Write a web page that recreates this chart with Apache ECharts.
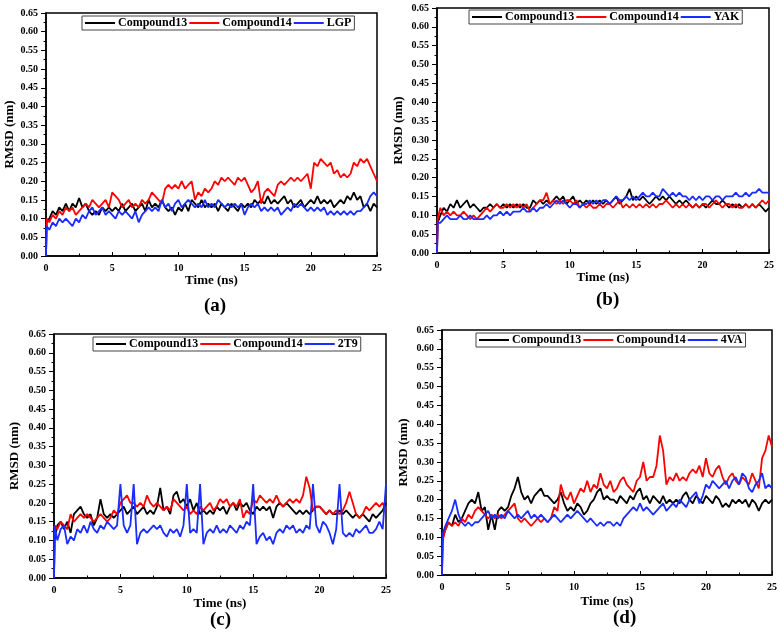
<!DOCTYPE html>
<html><head><meta charset="utf-8">
<script src="https://cdn.jsdelivr.net/npm/echarts@6/dist/echarts.min.js"></script>
<style>html,body{margin:0;padding:0;background:#fff}#c{width:780px;height:632px}</style>
</head><body><div id="c"></div>
<script>
// sampling times (ns): 0, 0.05, then every 0.25 ns
const times = [0, 0.05];
for (let k = 1; k <= 100; k++) times.push(k * 0.25);

const yTicks = ['0.00','0.05','0.10','0.15','0.20','0.25','0.30','0.35','0.40','0.45','0.50','0.55','0.60','0.65'];
const xTicks = [0,5,10,15,20,25];
const panelLabels = ['(a)','(b)','(c)','(d)'];
const thirdNames = ['LGP','YAK','2T9','4VA'];

// Panel (a)
const a13 = [0,0.09,
0.10,0.12,0.11,0.13, 0.12,0.14,0.12,0.14, 0.13,0.155,0.13,0.14, 0.12,0.11,0.12,0.11, 0.13,0.12,0.13,0.12,
0.13,0.12,0.14,0.12, 0.13,0.14,0.12,0.13, 0.14,0.12,0.15,0.13, 0.14,0.13,0.15,0.13, 0.12,0.13,0.11,0.13,
0.12,0.14,0.12,0.15, 0.14,0.13,0.15,0.13, 0.14,0.13,0.14,0.12, 0.14,0.13,0.12,0.14, 0.13,0.12,0.14,0.13,
0.14,0.13,0.15,0.14, 0.15,0.14,0.16,0.14, 0.15,0.14,0.15,0.16, 0.14,0.15,0.13,0.14, 0.15,0.13,0.14,0.15,
0.14,0.16,0.14,0.15, 0.14,0.15,0.13,0.14, 0.15,0.14,0.16,0.15, 0.17,0.15,0.16,0.13, 0.14,0.12,0.14,0.13];
const a14 = [0,0.10,
0.09,0.11,0.10,0.12, 0.11,0.13,0.12,0.13, 0.11,0.12,0.13,0.14, 0.13,0.15,0.14,0.13, 0.14,0.15,0.13,0.17,
0.16,0.15,0.13,0.14, 0.15,0.13,0.14,0.13, 0.15,0.14,0.15,0.17, 0.16,0.15,0.14,0.18, 0.19,0.18,0.19,0.18,
0.20,0.18,0.19,0.20, 0.15,0.17,0.16,0.18, 0.17,0.18,0.20,0.19, 0.21,0.20,0.21,0.20, 0.19,0.21,0.20,0.21,
0.19,0.17,0.18,0.20, 0.14,0.17,0.18,0.17, 0.16,0.19,0.20,0.19, 0.20,0.21,0.20,0.21, 0.20,0.21,0.22,0.18,
0.25,0.24,0.26,0.25, 0.24,0.25,0.22,0.23, 0.21,0.22,0.21,0.22, 0.25,0.24,0.26,0.25, 0.26,0.24,0.22,0.20];
const aLGP = [0,0.08,
0.07,0.09,0.08,0.10, 0.09,0.10,0.09,0.08, 0.10,0.09,0.11,0.10, 0.12,0.13,0.11,0.12, 0.13,0.11,0.12,0.11,
0.10,0.12,0.11,0.12, 0.11,0.10,0.12,0.09, 0.11,0.12,0.13,0.12, 0.13,0.12,0.15,0.13, 0.14,0.12,0.14,0.15,
0.13,0.14,0.15,0.14, 0.13,0.14,0.13,0.15, 0.13,0.14,0.13,0.15, 0.14,0.13,0.14,0.13, 0.14,0.13,0.14,0.11,
0.13,0.14,0.13,0.14, 0.12,0.13,0.12,0.13, 0.12,0.13,0.11,0.12, 0.13,0.12,0.14,0.13, 0.14,0.13,0.12,0.13,
0.12,0.13,0.12,0.13, 0.11,0.12,0.11,0.12, 0.11,0.12,0.11,0.12, 0.11,0.12,0.12,0.13, 0.14,0.16,0.17,0.16];

// Panel (b)
const b13 = [0,0.08,
0.10,0.12,0.11,0.13, 0.12,0.14,0.12,0.13, 0.14,0.12,0.13,0.12, 0.11,0.12,0.12,0.13, 0.12,0.13,0.12,0.13,
0.12,0.13,0.12,0.13, 0.12,0.13,0.12,0.12, 0.14,0.13,0.14,0.13, 0.14,0.13,0.14,0.15, 0.14,0.15,0.13,0.14,
0.15,0.13,0.14,0.13, 0.14,0.13,0.14,0.13, 0.14,0.13,0.14,0.13, 0.14,0.15,0.13,0.14, 0.15,0.17,0.14,0.15,
0.14,0.15,0.14,0.13, 0.14,0.15,0.14,0.15, 0.14,0.15,0.14,0.13, 0.14,0.13,0.14,0.13, 0.12,0.13,0.12,0.13,
0.12,0.13,0.14,0.13, 0.13,0.14,0.13,0.12, 0.13,0.12,0.13,0.12, 0.13,0.12,0.13,0.12, 0.13,0.12,0.11,0.12];
const b14 = [0,0.09,
0.12,0.10,0.11,0.10, 0.11,0.10,0.10,0.11, 0.10,0.09,0.10,0.09, 0.10,0.11,0.12,0.11, 0.12,0.13,0.12,0.12,
0.13,0.12,0.13,0.12, 0.13,0.12,0.13,0.11, 0.12,0.13,0.14,0.14, 0.16,0.13,0.14,0.13, 0.14,0.13,0.14,0.14,
0.13,0.14,0.12,0.13, 0.12,0.13,0.12,0.12, 0.13,0.12,0.13,0.13, 0.12,0.13,0.14,0.12, 0.13,0.12,0.13,0.12,
0.13,0.12,0.13,0.12, 0.13,0.12,0.13,0.13, 0.14,0.13,0.12,0.13, 0.12,0.13,0.12,0.13, 0.12,0.13,0.12,0.13,
0.13,0.12,0.13,0.14, 0.13,0.12,0.13,0.13, 0.12,0.13,0.12,0.12, 0.13,0.12,0.13,0.12, 0.13,0.14,0.13,0.14];
const bYAK = [0,0.08,
0.08,0.09,0.10,0.09, 0.09,0.09,0.10,0.09, 0.09,0.10,0.09,0.09, 0.09,0.09,0.10,0.09, 0.10,0.10,0.11,0.10,
0.11,0.10,0.11,0.11, 0.11,0.12,0.11,0.11, 0.12,0.11,0.12,0.12, 0.13,0.12,0.13,0.14, 0.13,0.14,0.13,0.12,
0.13,0.13,0.12,0.13, 0.13,0.14,0.13,0.14, 0.13,0.14,0.14,0.13, 0.14,0.15,0.14,0.14, 0.15,0.14,0.15,0.14,
0.15,0.16,0.15,0.15, 0.16,0.15,0.15,0.17, 0.16,0.15,0.16,0.15, 0.16,0.15,0.15,0.14, 0.15,0.14,0.15,0.14,
0.15,0.15,0.14,0.15, 0.15,0.14,0.15,0.15, 0.15,0.16,0.15,0.15, 0.16,0.15,0.16,0.16, 0.17,0.16,0.16,0.16];

// Panel (c)
const c13 = [0,0.10,
0.14,0.15,0.13,0.15, 0.12,0.17,0.18,0.19, 0.17,0.16,0.17,0.14, 0.16,0.21,0.17,0.16, 0.17,0.16,0.17,0.18,
0.19,0.17,0.18,0.19, 0.17,0.18,0.19,0.17, 0.18,0.17,0.19,0.24, 0.18,0.19,0.17,0.22, 0.23,0.20,0.21,0.19,
0.21,0.18,0.20,0.17, 0.18,0.17,0.18,0.17, 0.19,0.18,0.19,0.17, 0.19,0.20,0.18,0.20, 0.19,0.20,0.18,0.17,
0.19,0.18,0.19,0.18, 0.19,0.16,0.19,0.20, 0.19,0.20,0.19,0.18, 0.17,0.18,0.17,0.18, 0.17,0.18,0.19,0.19,
0.18,0.17,0.18,0.17, 0.17,0.18,0.17,0.18, 0.17,0.16,0.17,0.16, 0.17,0.16,0.15,0.17, 0.16,0.17,0.18,0.20];
const c14 = [0,0.14,
0.13,0.15,0.14,0.13, 0.17,0.15,0.16,0.17, 0.16,0.17,0.16,0.15, 0.16,0.17,0.16,0.15, 0.16,0.18,0.17,0.20,
0.21,0.22,0.20,0.20, 0.19,0.20,0.19,0.22, 0.20,0.19,0.20,0.19, 0.18,0.19,0.18,0.21, 0.20,0.19,0.18,0.19,
0.17,0.18,0.17,0.19, 0.18,0.19,0.20,0.18, 0.19,0.21,0.20,0.21, 0.19,0.20,0.19,0.21, 0.16,0.18,0.17,0.21,
0.20,0.22,0.21,0.20, 0.21,0.20,0.22,0.20, 0.19,0.20,0.21,0.20, 0.21,0.20,0.22,0.27, 0.24,0.18,0.19,0.19,
0.18,0.17,0.18,0.17, 0.18,0.17,0.18,0.20, 0.23,0.20,0.17,0.16, 0.17,0.19,0.18,0.19, 0.20,0.19,0.20,0.18];
const c2T9 = [0,0.14,
0.10,0.13,0.14,0.09, 0.11,0.10,0.13,0.12, 0.14,0.12,0.15,0.13, 0.12,0.14,0.13,0.15, 0.14,0.13,0.14,0.25,
0.14,0.12,0.14,0.25, 0.09,0.12,0.13,0.12, 0.13,0.14,0.13,0.14, 0.12,0.11,0.13,0.12, 0.13,0.11,0.14,0.25,
0.12,0.13,0.12,0.25, 0.09,0.12,0.13,0.12, 0.14,0.12,0.13,0.12, 0.14,0.13,0.12,0.14, 0.13,0.15,0.14,0.25,
0.09,0.11,0.12,0.10, 0.11,0.09,0.12,0.13, 0.12,0.14,0.13,0.14, 0.12,0.13,0.12,0.14, 0.13,0.25,0.14,0.12,
0.15,0.14,0.12,0.09, 0.13,0.25,0.12,0.11, 0.12,0.11,0.13,0.12, 0.13,0.14,0.12,0.12, 0.13,0.15,0.13,0.25];

// Panel (d)
const d13 = [0,0.10,
0.12,0.14,0.13,0.16, 0.14,0.15,0.17,0.19, 0.20,0.19,0.22,0.17, 0.18,0.12,0.16,0.12, 0.17,0.18,0.17,0.18,
0.21,0.23,0.26,0.22, 0.20,0.21,0.19,0.21, 0.22,0.23,0.21,0.21, 0.20,0.19,0.20,0.22, 0.19,0.17,0.18,0.17,
0.19,0.18,0.16,0.17, 0.19,0.20,0.22,0.23, 0.20,0.21,0.20,0.20, 0.19,0.21,0.20,0.19, 0.21,0.20,0.22,0.23,
0.20,0.21,0.19,0.21, 0.20,0.19,0.21,0.19, 0.20,0.19,0.20,0.19, 0.21,0.22,0.20,0.19, 0.21,0.20,0.19,0.21,
0.20,0.19,0.21,0.20, 0.18,0.19,0.18,0.20, 0.19,0.20,0.19,0.20, 0.18,0.20,0.19,0.17, 0.19,0.20,0.19,0.20];
const d14 = [0,0.09,
0.12,0.14,0.13,0.14, 0.13,0.15,0.14,0.16, 0.15,0.17,0.18,0.17, 0.16,0.15,0.16,0.15, 0.16,0.15,0.16,0.17,
0.18,0.19,0.15,0.14, 0.15,0.14,0.13,0.14, 0.15,0.14,0.15,0.14, 0.15,0.18,0.17,0.24, 0.21,0.20,0.22,0.19,
0.21,0.23,0.22,0.25, 0.22,0.24,0.23,0.27, 0.24,0.23,0.25,0.22, 0.23,0.25,0.26,0.24, 0.23,0.22,0.25,0.26,
0.30,0.25,0.26,0.26, 0.29,0.37,0.33,0.24, 0.26,0.25,0.27,0.25, 0.26,0.25,0.27,0.28, 0.27,0.29,0.26,0.31,
0.27,0.26,0.28,0.29, 0.26,0.24,0.26,0.27, 0.25,0.24,0.26,0.25, 0.24,0.27,0.25,0.23, 0.31,0.33,0.37,0.34];
const d4VA = [0,0.11,
0.13,0.15,0.17,0.20, 0.16,0.14,0.13,0.14, 0.13,0.14,0.14,0.15, 0.16,0.17,0.15,0.16, 0.15,0.16,0.15,0.17,
0.16,0.15,0.16,0.15, 0.16,0.17,0.15,0.16, 0.15,0.16,0.15,0.14, 0.15,0.16,0.15,0.14, 0.15,0.16,0.15,0.16,
0.17,0.16,0.15,0.14, 0.15,0.14,0.13,0.14, 0.13,0.14,0.14,0.13, 0.14,0.13,0.15,0.16, 0.17,0.18,0.17,0.19,
0.17,0.18,0.17,0.16, 0.17,0.18,0.19,0.17, 0.18,0.19,0.18,0.20, 0.19,0.18,0.20,0.21, 0.22,0.19,0.21,0.24,
0.23,0.25,0.24,0.23, 0.24,0.25,0.23,0.25, 0.26,0.24,0.27,0.26, 0.23,0.22,0.24,0.25, 0.27,0.23,0.24,0.23];

const panels = [
  {s: [a13, a14, aLGP], grid: {left: 46, top: 13, width: 331, height: 243}, legend: {left: 82, top: 16}, xGap: 15, yGap: 29, lab: [216, 308]},
  {s: [b13, b14, bYAK], grid: {left: 437, top: 8, width: 332, height: 245}, legend: {left: 469, top: 10}, xGap: 18, yGap: 32, lab: [608, 302]},
  {s: [c13, c14, c2T9], grid: {left: 54, top: 334, width: 332, height: 244}, legend: {left: 93, top: 337}, xGap: 19, yGap: 33, lab: [222, 622]},
  {s: [d13, d14, d4VA], grid: {left: 442, top: 330, width: 331, height: 245}, legend: {left: 476, top: 333}, xGap: 20, yGap: 32, lab: [625, 620]}
];
const colors = ['#000000', '#ff0000', '#1a2cff'];
const FONT = 'Liberation Serif';

const option = {animation: false, backgroundColor: '#fff', grid: [], xAxis: [], yAxis: [], legend: [], series: [], graphic: []};
panels.forEach((p, i) => {
  option.grid.push(Object.assign({show: true, borderColor: '#000', borderWidth: 1.5, backgroundColor: 'transparent'}, p.grid));
  option.xAxis.push({
    gridIndex: i, type: 'value', min: xTicks[0], max: xTicks[xTicks.length - 1], interval: xTicks[1] - xTicks[0],
    name: 'Time (ns)', nameLocation: 'middle', nameGap: p.xGap,
    nameTextStyle: {fontFamily: FONT, fontWeight: 'bold', fontSize: 13, color: '#000'},
    axisLine: {show: true, lineStyle: {color: '#000', width: 1.5}},
    axisTick: {show: true, inside: true, length: 4, lineStyle: {color: '#000', width: 1}},
    minorTick: {show: true, splitNumber: 2, length: 2.5, lineStyle: {color: '#000'}},
    splitLine: {show: false},
    axisLabel: {fontFamily: FONT, fontWeight: 'bold', fontSize: 10, color: '#000', margin: 7}
  });
  option.yAxis.push({
    gridIndex: i, type: 'value', min: 0, max: 0.65, interval: 0.05,
    name: 'RMSD (nm)', nameLocation: 'middle', nameGap: p.yGap,
    nameTextStyle: {fontFamily: FONT, fontWeight: 'bold', fontSize: 13, color: '#000'},
    axisLine: {show: true, lineStyle: {color: '#000', width: 1.5}},
    axisTick: {show: true, inside: false, length: 5, lineStyle: {color: '#000', width: 1}},
    minorTick: {show: true, splitNumber: 2, length: 2.5, lineStyle: {color: '#000'}},
    splitLine: {show: false},
    axisLabel: {fontFamily: FONT, fontWeight: 'bold', fontSize: 10, color: '#000', margin: 8,
      formatter: v => yTicks[Math.round(v / 0.05)] || v.toFixed(2)}
  });
  const names = ['Compound13', 'Compound14', thirdNames[i]];
  option.legend.push({
    left: p.legend.left, top: p.legend.top, orient: 'horizontal',
    data: names.map(n => ({name: n, icon: 'rect'})),
    itemWidth: 30, itemHeight: 2, itemGap: 2,
    backgroundColor: '#fff', borderColor: '#444', borderWidth: 1, padding: [1, 3],
    selectedMode: false,
    textStyle: {fontFamily: FONT, fontWeight: 'bold', fontSize: 12, color: '#000', padding: [0, 0, 0, -2]}
  });
  p.s.forEach((arr, j) => {
    option.series.push({
      type: 'line', name: names[j], xAxisIndex: i, yAxisIndex: i,
      data: arr.map((v, k) => [times[k], v]),
      showSymbol: false, symbol: 'none', sampling: 'none',
      lineStyle: {color: colors[j], width: 1.8}, itemStyle: {color: colors[j]},
      emphasis: {disabled: true}, z: 2 + j
    });
  });
  option.graphic.push({
    type: 'text', left: p.lab[0] - 12, top: p.lab[1] - 11,
    style: {text: panelLabels[i], fontFamily: FONT, fontWeight: 'bold', fontSize: 19, fill: '#000'}
  });
});
const chart = echarts.init(document.getElementById('c'), null, {renderer: 'canvas'});
chart.setOption(option);
</script></body></html>
